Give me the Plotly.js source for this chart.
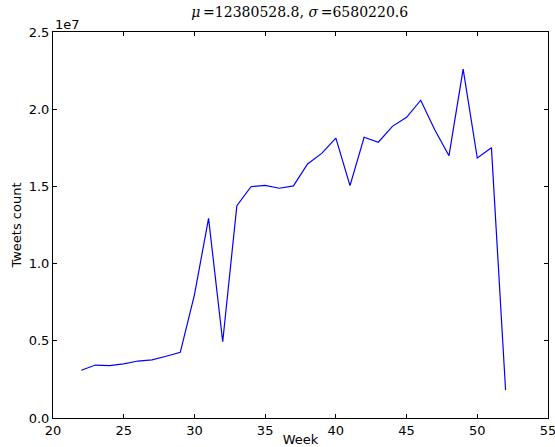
<!DOCTYPE html>
<html>
<head>
<meta charset="utf-8">
<script src="https://cdn.plot.ly/plotly-3.0.1.min.js"></script>
<style>html,body{margin:0;padding:0;background:#fff;}#chart{width:555px;height:447px;}</style>
</head>
<body>
<div id="chart"></div>
<script>
const weeks = [22,23,24,25,26,27,28,29,30,31,32,33,34,35,36,37,38,39,40,41,42,43,44,45,46,47,48,49,50,51,52];
const tweets = [3090000,3430000,3390000,3500000,3690000,3760000,4000000,4250000,7970000,12930000,4940000,13750000,14980000,15070000,14880000,15030000,16450000,17140000,18130000,15050000,18180000,17860000,18890000,19470000,20580000,18650000,16990000,22600000,16840000,17510000,1810000];
const xTicks = [20,25,30,35,40,45,50,55];
const yTickVals = [0,5000000,10000000,15000000,20000000,25000000];
const yTickText = ["0.0","0.5","1.0","1.5","2.0","2.5"];

const font = {family: "DejaVu Sans, sans-serif", size: 13, color: "#000"};
const axisCommon = {
  showgrid: false, zeroline: false, showline: true, linecolor: "#000", linewidth: 1,
  mirror: "allticks", ticks: "inside", ticklen: 4, tickcolor: "#000", tickwidth: 1,
  tickfont: font, ticklabeloverflow: "allow"
};
Plotly.newPlot("chart", [{
  x: weeks, y: tweets, type: "scatter", mode: "lines",
  line: {color: "#0000ff", width: 1.2}
}], {
  width: 555, height: 447,
  margin: {l: 53, r: 7, t: 32, b: 29},
  paper_bgcolor: "#fff", plot_bgcolor: "#fff",
  showlegend: false,
  title: {text: "<i>μ</i>\u2009=12380528.8, <i>σ</i>\u2009=6580220.6", font: {family: "DejaVu Serif, serif", size: 14, color: "#000"}, x: 0.54, xanchor: "center", y: 0.972, yanchor: "middle"},
  xaxis: Object.assign({}, axisCommon, {range: [20, 55], tickvals: xTicks, title: {text: "Week", font: font, standoff: 4}}),
  yaxis: Object.assign({}, axisCommon, {range: [0, 25000000], tickvals: yTickVals, ticktext: yTickText, title: {text: "Tweets count", font: font, standoff: 4}}),
  annotations: [{text: "1e7", xref: "paper", yref: "paper", x: 0, y: 1, xanchor: "left", yanchor: "bottom", showarrow: false, font: font, yshift: -2}]
}, {staticPlot: true});
</script>
</body>
</html>
